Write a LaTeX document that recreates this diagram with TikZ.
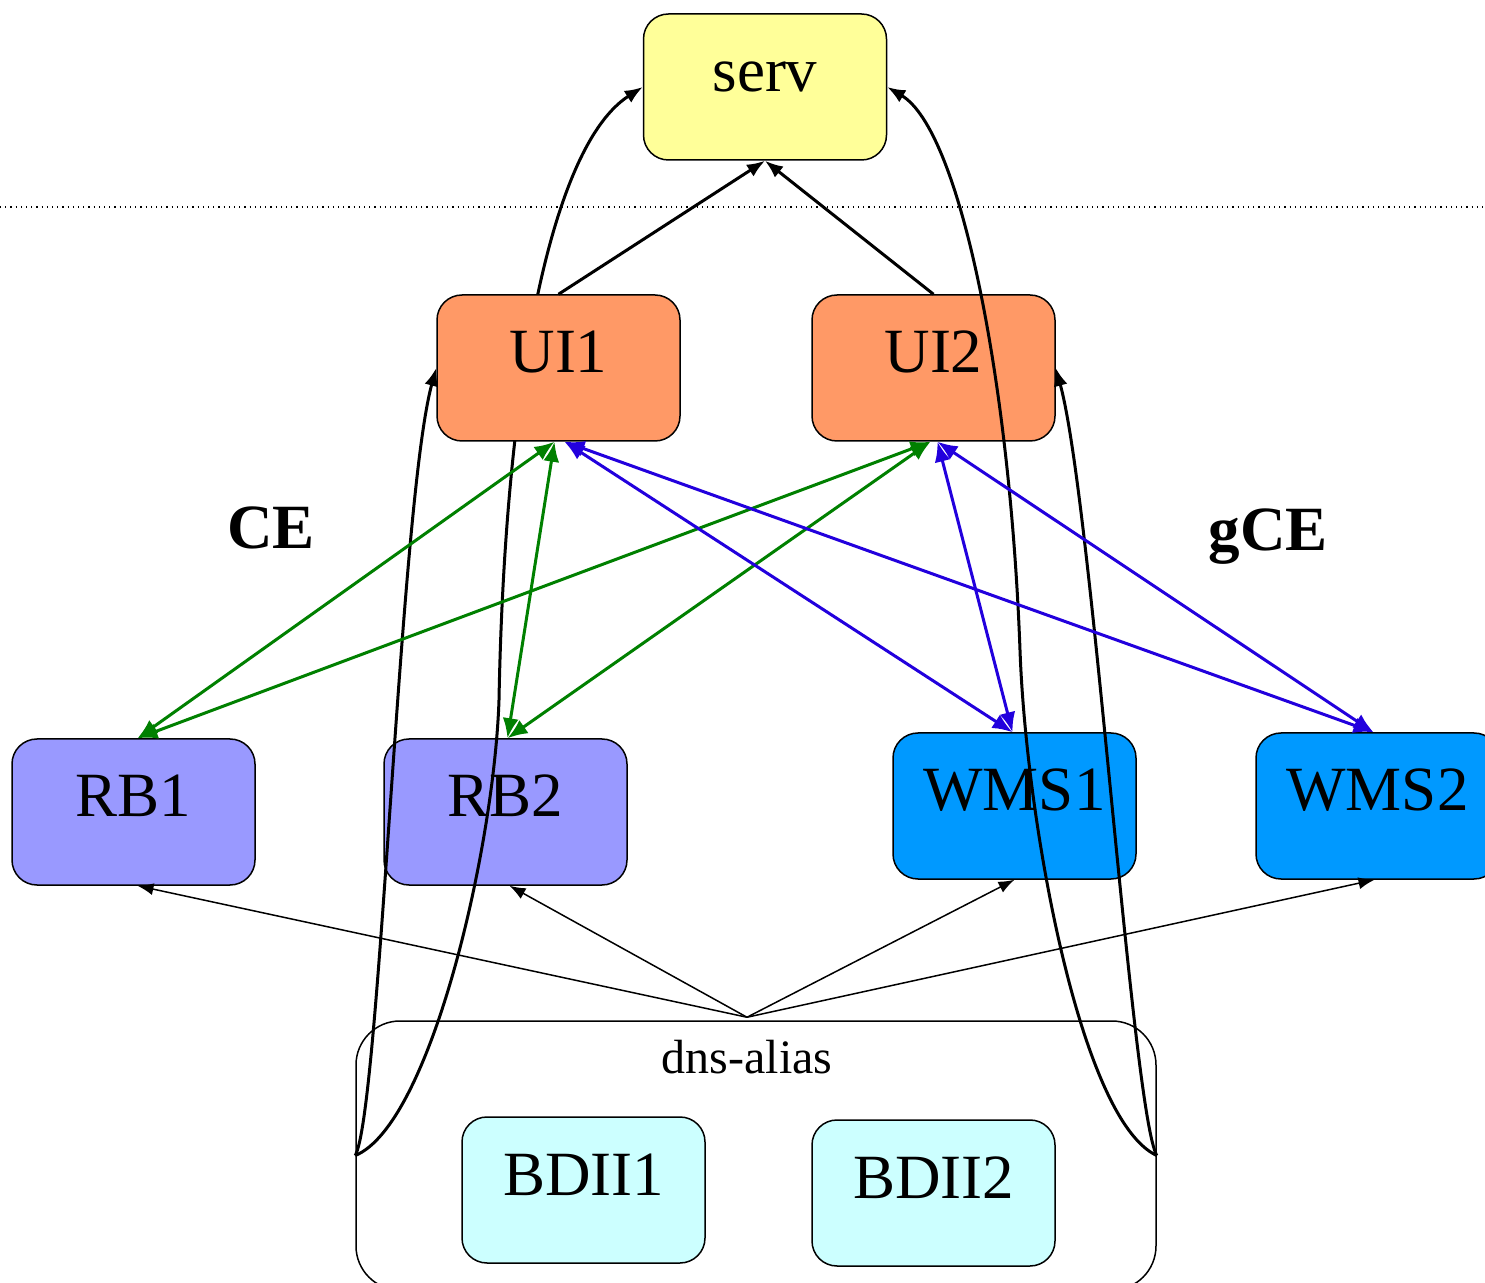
\documentclass[tikz,border=0pt]{standalone}
\usepackage{fontspec}
\setmainfont{Liberation Serif}
\usetikzlibrary{arrows.meta,calc}
\definecolor{servfill}{RGB}{255,255,153}
\definecolor{uifill}{RGB}{255,153,102}
\definecolor{rbfill}{RGB}{153,153,255}
\definecolor{wmsfill}{RGB}{0,153,255}
\definecolor{bdiifill}{RGB}{204,255,255}
\definecolor{cegreen}{RGB}{0,128,0}
\definecolor{gceblue}{RGB}{34,0,221}
\tikzset{box/.style={draw, rectangle, rounded corners=12.5pt, line width=0.75pt, minimum width=121.5pt, inner xsep=0pt, inner ysep=0pt, text height=39pt, text depth=34pt, font=\fontsize{31.5}{36}\selectfont}}
\tikzset{container/.style={draw, rectangle, rounded corners=22pt, line width=0.75pt, minimum width=400pt, minimum height=134.5pt}}
\tikzset{side/.style={font=\fontsize{31.5}{36}\selectfont\bfseries, anchor=base}}
\tikzset{line/.style={draw, line width=0.75pt, -{Latex[length=8pt,width=6pt]}}}
\tikzset{lookup/.style={draw, line width=1.5pt, -{Latex[length=9pt,width=7pt]}}}
\tikzset{cejob/.style={draw, color=cegreen, line width=1.5pt, {Latex[length=10pt,width=8pt]}-{Latex[length=10pt,width=8pt]}}}
\tikzset{gcejob/.style={draw, color=gceblue, line width=1.5pt, {Latex[length=10pt,width=8pt]}-{Latex[length=10pt,width=8pt]}}}

\begin{document}
\begin{tikzpicture}[x=0.5pt, y=-0.5pt]

\clip (0,0) rectangle (1485,1283);
\draw [dotted, line width=0.6pt] (0,207) -- (1485,207);

\node [box, fill=servfill] (serv) at (765,87) {serv};
\node [box, fill=uifill] (ui2) at (933.5,368) {UI2};

\node [box, fill=rbfill] (rb1) at (133.5,812) {RB1};
\node [box, fill=rbfill] (rb2) at (505.5,812) {RB2};
\node [box, fill=wmsfill] (wms1) at (1014.5,806) {WMS1};
\node [box, fill=wmsfill] (wms2) at (1377.5,806) {WMS2};

\node [container] (dns) at (756,1155.5) {};
\node [font=\fontsize{24}{28}\selectfont] (alias) at (747,1057) {dns-alias};
\node [box, fill=bdiifill] (bdii1) at (583.5,1190) {BDII1};
\node [box, fill=bdiifill] (bdii2) at (933.5,1193) {BDII2};

\node [side] (ce) at (271,549) {CE};
\node [side] (gce) at (1268,551) {gCE};

%LOOKUP BEHIND UI1
\path [lookup] (dns.west) .. controls (430,1125) and (494,850) .. (499,700)
  .. controls (505,380) and (552,145) .. (serv.west);

\node [box, fill=uifill] (ui1) at (558.5,368) {UI1};

%UI TO SERV
\path [lookup] (ui1.north) -- (serv.south);
\path [lookup] (ui2.north) -- (serv.south);

%DNS LOOKUPS
\path [lookup] (dns.west) .. controls (380,1110) and (400,500) .. (ui1.west);
\path [lookup] (dns.east) .. controls (1132,1110) and (1092,500) .. (ui2.east);
\path [lookup] (dns.east) .. controls (1080,1120) and (1026,820) .. (1020,650)
  .. controls (1010,380) and (960,130) .. (serv.east);

%CE JOBS
\path [cejob] ($(ui1.south)+(-4,0)$) -- ($(rb1.north)+(4,0)$);
\path [cejob] ($(ui1.south)+(-4,0)$) -- ($(rb2.north)+(2,0)$);
\path [cejob] ($(ui2.south)+(-3,0)$) -- ($(rb1.north)+(4,0)$);
\path [cejob] ($(ui2.south)+(-3,0)$) -- ($(rb2.north)+(2,0)$);

%GCE JOBS
\path [gcejob] ($(ui1.south)+(6,0)$) -- ($(wms1.north)+(-2,0)$);
\path [gcejob] ($(ui1.south)+(6,0)$) -- ($(wms2.north)+(-4,0)$);
\path [gcejob] ($(ui2.south)+(4,0)$) -- ($(wms1.north)+(-2,0)$);
\path [gcejob] ($(ui2.south)+(4,0)$) -- ($(wms2.north)+(-4,0)$);

%ALIAS TO BROKERS
\coordinate (fan) at ($(dns.north)+(-9,-3)$);
\path [line] (fan) -- ($(rb1.south)+(4,0)$);
\path [line] (fan) -- ($(rb2.south)+(4,0)$);
\path [line] (fan) -- (wms1.south);
\path [line] (fan) -- ($(wms2.south)+(-3,0)$);

\end{tikzpicture}
\end{document}
